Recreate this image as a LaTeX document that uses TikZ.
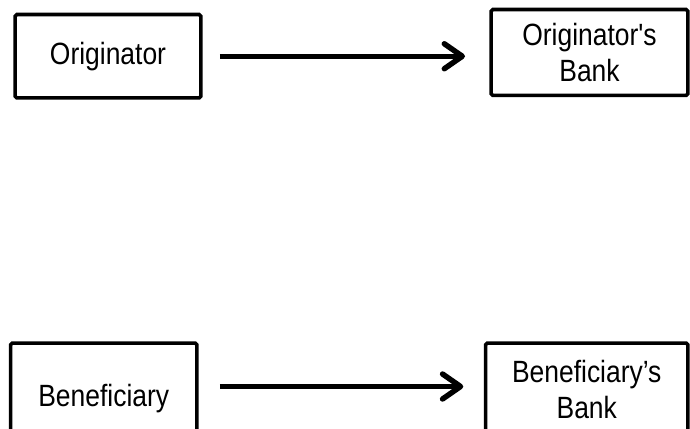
\documentclass[tikz,border=0pt]{standalone}
\usepackage{fontspec}
\newfontfamily\boxfont[FakeStretch=0.86]{Liberation Sans}
\usetikzlibrary{arrows.meta, positioning}

\begin{document}
\begin{tikzpicture}[x=0.02cm, y=-0.02cm,
    party/.style={draw=black, line width=2pt, rounded corners=1pt, align=center, inner sep=0pt,
                  font=\boxfont\fontsize{17.5}{20.5}\selectfont},
    flow/.style={-{Straight Barb[length=0.36cm, width=0.5cm, line cap=round, line join=round]}, line width=3.1pt}]
          % Marco del dibujo
          \useasboundingbox (0,0) rectangle (690,429);
          \clip (0,0) rectangle (690,429);

          % Fila superior
          \node[party, minimum width=3.72cm, minimum height=1.67cm] (orig) at (108,56.25) {Originator};
          \node[party, minimum width=3.94cm, minimum height=1.72cm] (origbank) at (589.5,52.5) {Originator's\\Bank};

          % Fila inferior (recortada por el borde)
          \node[party, minimum width=3.73cm, minimum height=2.24cm] (benef) at (103.75,399) {Beneficiary};
          \node[party, minimum width=4.05cm, minimum height=1.86cm] (benefbank) at (586.75,389.5) {Beneficiary’s\\Bank};

          % Flechas
          \draw[flow, shorten <=0.345cm, shorten >=0.485cm] (orig.east) -- (orig.east -| origbank.west);
          \draw[flow, shorten <=0.425cm, shorten >=0.41cm] ([yshift=0.25cm]benef.east) -- ([yshift=0.25cm]benef.east -| benefbank.west);
        \end{tikzpicture}
\end{document}
